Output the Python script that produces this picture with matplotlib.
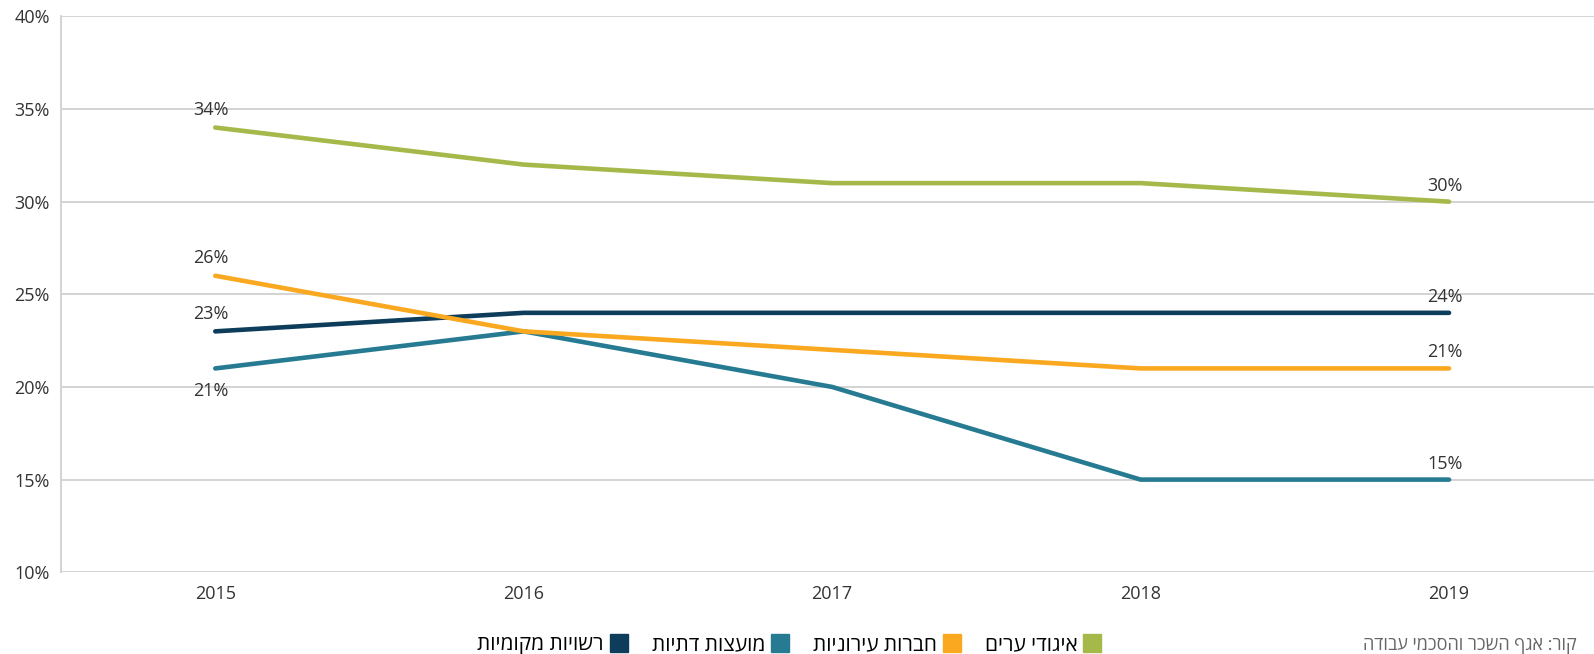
import matplotlib.pyplot as plt
from matplotlib.lines import Line2D
from matplotlib.ticker import PercentFormatter

plt.rcParams['font.family'] = ['Open Sans', 'DejaVu Sans']

years = [2015, 2016, 2017, 2018, 2019]
igudei_arim = [34, 32, 31, 31, 30]
chevrot_ironiot = [26, 23, 22, 21, 21]
moatzot_datiot = [21, 23, 20, 15, 15]
rashuyot_mekomiot = [23, 24, 24, 24, 24]

names = ['רשויות מקומיות', 'מועצות דתיות', 'חברות עירוניות', 'איגודי ערים']
colors = ['#0d3d5a', '#267b92', '#f9a81f', '#a5b84a']
series = [rashuyot_mekomiot, moatzot_datiot, chevrot_ironiot, igudei_arim]
source = 'קור: אגף השכר והסכמי עבודה'


def ltr(s):
    # הטקסט מוצג באותיות לפי הסדר משמאל לימין
    return s[::-1]


fig = plt.figure(figsize=(15.94, 6.54), dpi=100)
ax = fig.add_axes([0.0383, 0.125, 0.9617, 0.85])

for vals, col in zip(series, colors):
    ax.plot(years, vals, color=col, lw=3.3, solid_capstyle='round', zorder=3)

# תוויות ערכים בתחילת ובסוף כל סדרה
offsets_first = [6, -10, 6, 6]
for vals, off1 in zip(series, offsets_first):
    ax.annotate(f'{vals[0]}%', (years[0], vals[0]), xytext=(-3, off1),
                textcoords='offset points', ha='center',
                va='bottom' if off1 > 0 else 'top', fontsize=13, color='#333333')
    ax.annotate(f'{vals[-1]}%', (years[-1], vals[-1]), xytext=(-3, 5),
                textcoords='offset points', ha='center', va='bottom',
                fontsize=13, color='#333333')

ax.set_xlim(2014.5, 2019.47)
ax.set_ylim(10, 40)
ax.set_yticks(range(10, 41, 5))
ax.set_xticks(years)
ax.yaxis.set_major_formatter(PercentFormatter(decimals=0))
ax.grid(axis='y', color='#d0d0d0', lw=1.3)
ax.set_axisbelow(True)
ax.tick_params(length=0, labelsize=13, colors='#333333')
ax.tick_params(axis='x', pad=9)
ax.tick_params(axis='y', pad=8)
for s in ['top', 'right', 'bottom']:
    ax.spines[s].set_visible(False)
ax.spines['left'].set_color('#d0d0d0')
ax.spines['left'].set_linewidth(1.3)

handles = [Line2D([], [], ls='none', marker='s', markersize=13, color=c)
           for c in colors]
fig.legend(handles, [ltr(n) for n in names], loc='center',
           bbox_to_anchor=(0.495, 0.014), ncol=4, frameon=False,
           markerfirst=False, fontsize=15, handletextpad=0.3,
           columnspacing=1.2, handlelength=0.8)

fig.text(0.855, 0.013, ltr(source), fontsize=13,
         color='#666666', ha='left', va='center')

fig.savefig('out.png', dpi=100)
